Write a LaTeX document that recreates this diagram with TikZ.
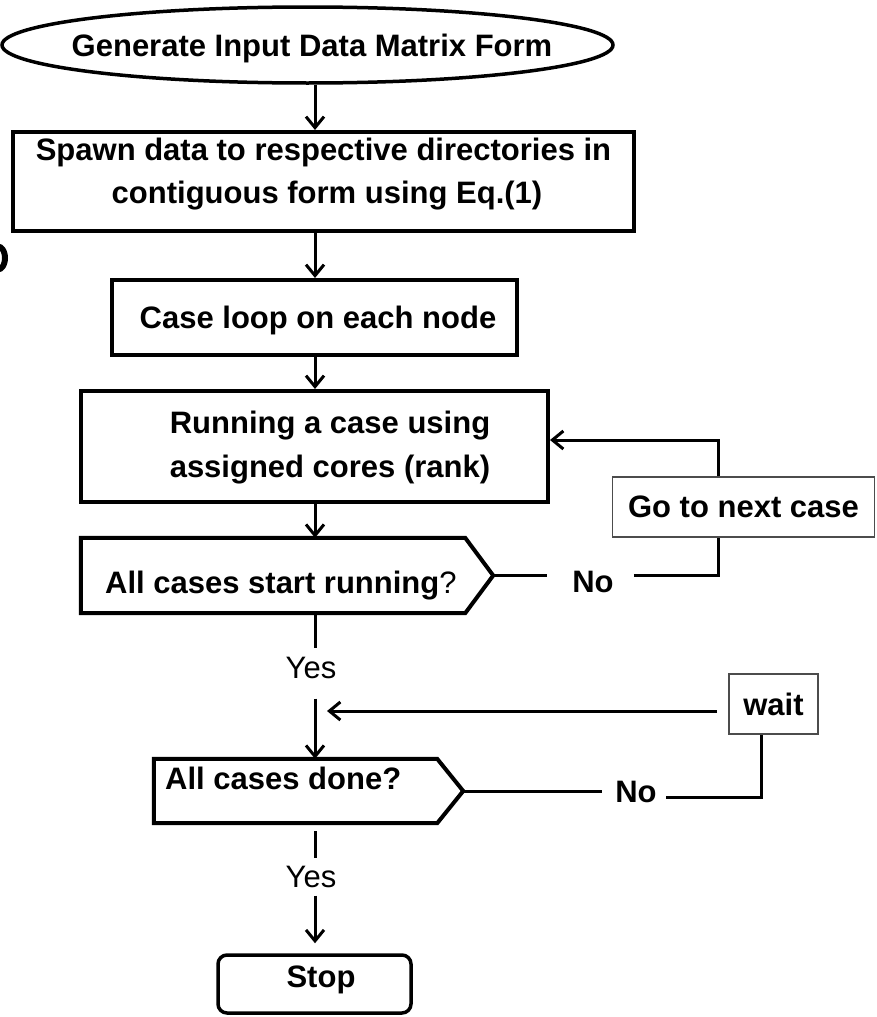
\documentclass[tikz,border=0pt]{standalone}
\usepackage{fontspec}
\setmainfont{Liberation Sans}
\usetikzlibrary{arrows.meta,shapes.geometric,calc}
\begin{document}
\begin{tikzpicture}[x=1pt,y=-1pt,
  box/.style={draw=black, line width=4pt, inner sep=0pt},
  thinbox/.style={draw=black!70, line width=1.6pt, fill=white, inner sep=0pt,
    font=\fontsize{31}{37}\selectfont\bfseries},
  txt/.style={inner sep=0pt, font=\fontsize{31}{37}\selectfont\bfseries},
  ytxt/.style={inner sep=0pt, font=\fontsize{31}{37}\selectfont},
  conn/.style={line width=3pt, draw=black},
  arr/.style={conn, -{Straight Barb[length=11pt,width=18pt,line width=3pt]}},
  pent/.style={line width=4pt, line join=miter}
]
\fill[white] (0,0) rectangle (877,1017);
\useasboundingbox (0,0) rectangle (877,1017);
\coordinate (spine) at (315,0);
\coordinate (loopx) at (718,0);

% stray glyph fragment at left edge
\fill[black, even odd rule] (-2,258) ellipse [x radius=10pt, y radius=14.5pt]
                             (-2,258) ellipse [x radius=4pt, y radius=8.5pt];

% start ellipse
\node[draw=black, ellipse, line width=3.5pt, minimum width=611pt, minimum height=76pt, inner sep=0pt] (start) at (307.5,45) {};
\node[txt, anchor=base] (startT) at (312,56) {Generate Input Data Matrix Form};

% spawn box
\node[box, minimum width=621pt, minimum height=99pt] (spawn) at (323.5,181.5) {};
\node[txt, anchor=base] (spawnA) at (323.5,160) {Spawn data to respective directories in};
\node[txt, anchor=base] (spawnB) at (327,203) {contiguous form using Eq.(1)};

% case loop box
\node[box, minimum width=405pt, minimum height=75pt] (caseloop) at (314.5,317.5) {};
\node[txt, anchor=base] (caseloopT) at (318,328) {Case loop on each node};

% running box
\node[box, minimum width=467pt, minimum height=111pt] (running) at (314.5,446.5) {};
\node[txt, anchor=base] (runA) at (330,433) {Running a case using};
\node[txt, anchor=base] (runB) at (330,477) {assigned cores (rank)};

% decision 1
\node[minimum width=384pt, minimum height=75pt, inner sep=0pt] (q1) at (273,575.5) {};
\coordinate (q1tip) at ($(q1.east)+(28,0)$);
\draw[pent] (q1.north west) -- (q1.north east) -- (q1tip) -- (q1.south east) -- (q1.south west) -- cycle;
\node[txt, anchor=base west] (q1T) at (105,593) {All cases start running{\mdseries ?}};

% go to next case
\node[thinbox, minimum width=262pt, minimum height=60pt] (gonext) at (743.5,507) {Go to next case};
\node[txt, anchor=base] (no1) at (593,592) {No};

% decision 2
\node[minimum width=283pt, minimum height=64pt, inner sep=0pt] (q2) at (295.5,791) {};
\coordinate (q2tip) at ($(q2.east)+(26,0)$);
\draw[pent] (q2.north west) -- (q2.north east) -- (q2tip) -- (q2.south east) -- (q2.south west) -- cycle;
\node[txt, anchor=base west] (q2T) at (165,789) {All cases done?};

% wait
\node[thinbox, minimum width=89pt, minimum height=60pt] (wait) at (773.5,704) {wait};
\node[txt, anchor=base] (no2) at (636,802) {No};
\coordinate (join) at (327,711);
\coordinate (wx) at (761,797);

% yes labels
\node[ytxt, anchor=base] (yes1) at (311,678) {Yes};
\node[ytxt, anchor=base] (yes2) at (311,887) {Yes};

% stop
\node[box, line width=3.5pt, rounded corners=9pt, minimum width=193pt, minimum height=58pt] (stop) at (314.5,984) {};
\node[txt, anchor=base] (stopT) at (321,987) {Stop};

% connectors
\draw[arr] (start.south -| spine) -- (spawn.north -| spine);
\draw[arr] (spawn.south -| spine) -- (caseloop.north -| spine);
\draw[arr] (caseloop.south -| spine) -- (running.north -| spine);
\draw[arr] (running.south -| spine) -- (q1.north -| spine);

\draw[conn, shorten >=25pt] (q1tip) -- (q1tip -| no1.west);
\draw[conn, shorten <=20pt] (q1tip -| no1.east) -- (q1tip -| loopx) -- (gonext.south -| loopx);
\draw[arr] (gonext.north -| loopx) |- ([yshift=6.5pt]running.east);

\draw[conn, shorten >=8pt] (q1.south -| spine) -- (yes1.north -| spine);
\draw[arr, shorten <=20pt] (yes1.south -| spine) -- (q2.north -| spine);
\draw[arr, shorten <=11pt] (wait.west |- join) -- (join);

\draw[conn, shorten >=13.5pt] (q2tip) -- (q2tip -| no2.west);
\draw[conn] ($(no2.east |- wx)+(9.5,0)$) -- (wx) -- (wait.south -| wx);

\draw[conn, shorten <=8pt, shorten >=7pt] (q2.south -| spine) -- (yes2.north -| spine);
\draw[arr, shorten <=8pt, shorten >=10pt] (yes2.south -| spine) -- (stop.north -| spine);
\end{tikzpicture}
\end{document}
